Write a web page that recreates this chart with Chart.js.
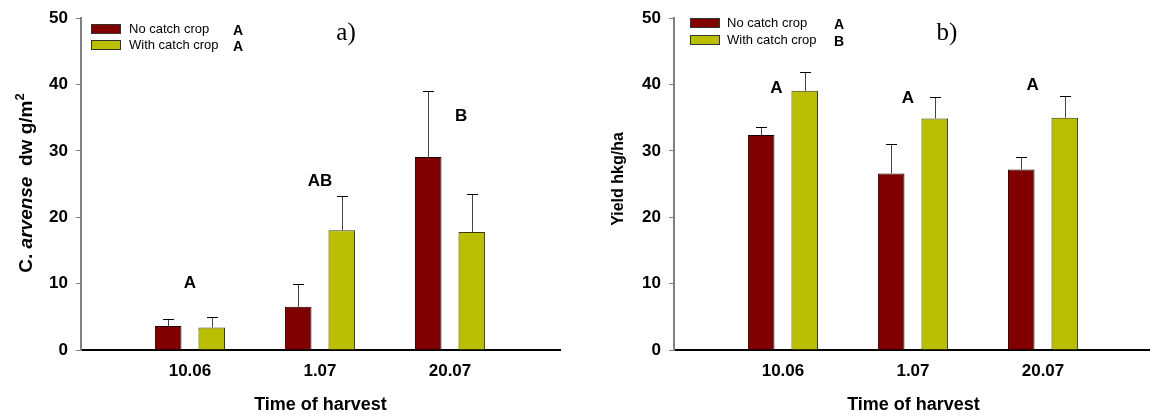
<!DOCTYPE html>
<html><head><meta charset="utf-8">
<script src="https://cdn.jsdelivr.net/npm/chart.js@4/dist/chart.umd.min.js"></script>
<style>
html,body{margin:0;padding:0;background:#fff;overflow:hidden;width:1150px;height:416px}
#wrap{position:relative;width:1150px;height:416px;overflow:hidden;background:#fff}
canvas{position:absolute;top:0}
#ca{left:0}
#cb{left:593px}
</style></head>
<body><div id="wrap"><canvas id="ca" width="575" height="416"></canvas><canvas id="cb" width="575" height="416"></canvas></div>
<script>
// ---- data ----
const harvestTimes = ['10.06', '1.07', '20.07'];
const seriesNames = ['No catch crop', 'With catch crop'];
const weedNoCatch = [3.6, 6.5, 29.1];
const weedNoCatchErr = [1.0, 3.5, 9.9];
const weedWithCatch = [3.4, 18.05, 17.8];
const weedWithCatchErr = [1.5, 5.15, 5.65];
const yieldNoCatch = [32.4, 26.6, 27.2];
const yieldNoCatchErr = [1.2, 4.4, 1.95];
const yieldWithCatch = [39.05, 34.9, 35.0];
const yieldWithCatchErr = [2.85, 3.3, 3.25];
const weedLegendLetters = ['A', 'A'];
const yieldLegendLetters = ['A', 'B'];
const weedGroupLetters = ['A', 'AB', 'B'];
const yieldGroupLetters = ['A', 'A', 'A'];
const yTickValues = [0, 10, 20, 30, 40, 50];

const RED = '#800000';
const YEL = '#B9BF00';
const FONT = '"Liberation Sans", Arial, sans-serif';

function toPoints(vals) { return vals.map((v, i) => ({ x: i, y: v })); }

function makeOverlay(cfg) {
  return {
    id: 'overlay',
    afterDatasetsDraw(chart) {
      const ctx = chart.ctx;
      const ys = chart.scales.y;
      chart.data.datasets.forEach((ds, di) => {
        const meta = chart.getDatasetMeta(di);
        meta.data.forEach((el, i) => {
          const v = ds.data[i].y + cfg.errors[di][i];
          const top = ys.getPixelForValue(v);
          const cx = Math.round(el.x);
          ctx.save();
          ctx.strokeStyle = '#444';
          ctx.lineWidth = 1;
          ctx.beginPath();
          ctx.moveTo(cx + 0.5, el.y);
          ctx.lineTo(cx + 0.5, Math.round(top) + 0.5);
          ctx.stroke();
          ctx.strokeStyle = '#000';
          ctx.beginPath();
          ctx.moveTo(cx - 5, Math.round(top) + 0.5);
          ctx.lineTo(cx + 6, Math.round(top) + 0.5);
          ctx.stroke();
          ctx.restore();
        });
      });
    },
    afterDraw(chart) {
      const ctx = chart.ctx;
      const xs = chart.scales.x, ys = chart.scales.y;
      const area = chart.chartArea;
      ctx.save();
      // legend
      const L = cfg.legend;
      [RED, YEL].forEach((c, i) => {
        const y0 = L.y[i];
        ctx.fillStyle = c;
        ctx.fillRect(L.x, y0, 30, 10);
        ctx.strokeStyle = '#333';
        ctx.lineWidth = 1;
        ctx.strokeRect(L.x + 0.5, y0 + 0.5, 29, 9);
        ctx.fillStyle = '#000';
        ctx.font = '13px ' + FONT;
        ctx.textAlign = 'left';
        ctx.textBaseline = 'middle';
        ctx.fillText(seriesNames[i], L.tx, y0 + 5);
        ctx.font = 'bold 14px ' + FONT;
        ctx.fillText(cfg.legendLetters[i], L.lx, y0 + 7);
      });
      // panel label
      ctx.font = '25px "Liberation Serif", "DejaVu Serif", serif';
      ctx.textAlign = 'center';
      ctx.textBaseline = 'alphabetic';
      ctx.fillStyle = '#000';
      ctx.fillText(cfg.panel, cfg.panelX, 40);
      // group letters
      ctx.font = 'bold 17px ' + FONT;
      ctx.textBaseline = 'middle';
      cfg.groupLetters.forEach((t, i) => {
        const p = cfg.letterPos[i];
        ctx.fillText(t, xs.getPixelForValue(p.x), ys.getPixelForValue(p.y));
      });
      // x title
      ctx.font = 'bold 18px ' + FONT;
      ctx.fillText('Time of harvest', (area.left + area.right) / 2, 405);
      // y title
      ctx.translate(cfg.yTitleX, cfg.yTitleY);
      ctx.rotate(-Math.PI / 2);
      const parts = cfg.yTitle;
      let total = 0;
      parts.forEach(p => { ctx.font = p.f; total += ctx.measureText(p.t).width; });
      let x = -total / 2;
      ctx.textAlign = 'left';
      ctx.textBaseline = 'alphabetic';
      parts.forEach(p => {
        ctx.font = p.f;
        ctx.fillText(p.t, x, 7 + (p.dy || 0));
        x += ctx.measureText(p.t).width;
      });
      ctx.restore();
    }
  };
}

function makeChart(id, noVals, withVals, cfg) {
  const xMin = -0.838, xMax = 2.846;
  return new Chart(document.getElementById(id), {
    type: 'bar',
    data: {
      datasets: [
        { label: seriesNames[0], data: toPoints(noVals), backgroundColor: RED, borderColor: '#1a0000', borderWidth: 1 },
        { label: seriesNames[1], data: toPoints(withVals), backgroundColor: YEL, borderColor: '#3a3a00', borderWidth: 1 }
      ]
    },
    options: {
      responsive: false,
      animation: false,
      categoryPercentage: 0.67,
      barPercentage: 0.61,
      layout: { padding: { left: 0, top: 16, right: 15, bottom: 0 } },
      plugins: { legend: { display: false }, tooltip: { enabled: false } },
      scales: {
        x: {
          type: 'linear',
          offset: false,
          min: xMin, max: xMax,
          grid: { display: false, drawTicks: false, offset: false },
          border: { display: true, color: '#000', width: 2 },
          afterBuildTicks: s => { s.ticks = harvestTimes.map((_, i) => ({ value: i })); },
          afterFit: s => { s.height = 66; },
          ticks: {
            padding: 11,
            color: '#000',
            font: { family: FONT, size: 17, weight: 'bold' },
            callback: v => harvestTimes[Math.round(v)] || ''
          }
        },
        y: {
          min: 0, max: 50,
          afterBuildTicks: s => { s.ticks = yTickValues.map(v => ({ value: v })); },
          afterFit: s => { s.width = 81; },
          grid: { drawOnChartArea: false, drawTicks: true, tickLength: 5, color: '#808080', lineWidth: 1 },
          border: { display: true, color: '#808080', width: 2 },
          ticks: {
            padding: 8,
            color: '#000',
            font: { family: FONT, size: 17, weight: 'bold' }
          }
        }
      }
    },
    plugins: [makeOverlay(cfg)]
  });
}

makeChart('ca', weedNoCatch, weedWithCatch, {
  errors: [weedNoCatchErr, weedWithCatchErr],
  legend: { x: 91, y: [24, 40], tx: 129, lx: 233 },
  legendLetters: weedLegendLetters,
  panel: 'a)', panelX: 346,
  groupLetters: weedGroupLetters,
  letterPos: [{ x: 0, y: 10.0 }, { x: 1, y: 25.4 }, { x: 2.085, y: 35.2 }],
  yTitleX: 25, yTitleY: 183,
  yTitle: [
    { t: 'C. ', f: 'bold 19px ' + FONT },
    { t: 'arvense', f: 'italic bold 19px ' + FONT },
    { t: '  dw g/m', f: 'bold 19px ' + FONT },
    { t: '2', f: 'bold 13px ' + FONT, dy: -8 }
  ]
});

makeChart('cb', yieldNoCatch, yieldWithCatch, {
  errors: [yieldNoCatchErr, yieldWithCatchErr],
  legend: { x: 97, y: [18, 35], tx: 134, lx: 241 },
  legendLetters: yieldLegendLetters,
  panel: 'b)', panelX: 354,
  groupLetters: yieldGroupLetters,
  letterPos: [{ x: -0.05, y: 39.4 }, { x: 0.96, y: 37.9 }, { x: 1.92, y: 39.85 }],
  yTitleX: 23, yTitleY: 179,
  yTitle: [
    { t: 'Yield hkg/ha', f: 'bold 16px ' + FONT }
  ]
});
</script>
</body></html>
